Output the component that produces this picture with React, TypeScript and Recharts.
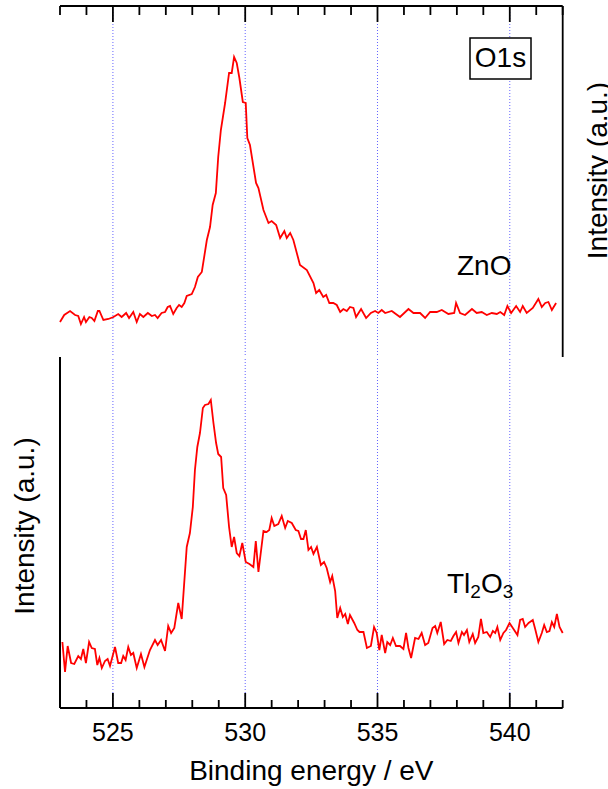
import React from 'react';
import { LineChart, Line, XAxis, YAxis, ReferenceLine } from 'recharts';

const FONT = '"Liberation Sans", Arial, Helvetica, sans-serif';

// binding energy (eV) and intensity (a.u.)
const znoEnergy = [
  523.0, 523.16, 523.38, 523.57, 523.69, 523.79, 523.91, 523.98, 524.11, 524.2,
  524.3, 524.43, 524.49, 524.64, 524.83, 525.02, 525.2, 525.33, 525.5, 525.61,
  525.77, 525.9, 526.02, 526.15, 526.32, 526.47, 526.59, 526.69, 526.84, 526.97,
  527.07, 527.16, 527.28, 527.41, 527.5, 527.6, 527.7, 527.79, 527.98, 528.1,
  528.21, 528.36, 528.55, 528.67, 528.77, 528.89, 528.98, 529.08, 529.24, 529.39,
  529.49, 529.58, 529.68, 529.78, 529.91, 530.02, 530.08, 530.18, 530.41, 530.5,
  530.69, 530.88, 531.0, 531.17, 531.32, 531.48, 531.57, 531.7, 531.82, 532.07,
  532.33, 532.58, 532.68, 532.8, 532.95, 533.06, 533.18, 533.33, 533.46, 533.59,
  533.71, 533.84, 533.96, 534.09, 534.19, 534.38, 534.57, 534.75, 534.91, 535.03,
  535.16, 535.29, 535.54, 535.85, 536.17, 536.36, 536.61, 536.8, 536.99, 537.24,
  537.43, 537.68, 537.9, 537.97, 538.12, 538.31, 538.57, 538.75, 538.94, 539.13,
  539.32, 539.51, 539.64, 539.79, 539.91, 540.05, 540.24, 540.39, 540.49, 540.64,
  540.87, 541.08, 541.21, 541.34, 541.46, 541.59, 541.75,
];
const znoIntensity = [
  35, 42, 46, 42, 41, 33, 40, 35, 40, 39,
  36, 46, 46, 37, 38, 40, 43, 40, 44, 39,
  45, 35, 43, 40, 44, 41, 42, 39, 44, 45,
  50, 51, 43, 49, 52, 50, 54, 61, 63, 70,
  80, 85, 117, 130, 152, 164, 200, 227, 254, 284,
  284, 300, 294, 279, 255, 254, 219, 212, 174, 169,
  147, 134, 136, 132, 119, 126, 119, 124, 117, 92,
  87, 74, 64, 67, 60, 62, 54, 54, 52, 45,
  48, 46, 50, 49, 40, 48, 39, 44, 46, 44,
  47, 44, 46, 40, 48, 44, 44, 39, 45, 45,
  47, 43, 44, 54, 44, 42, 48, 44, 45, 42,
  44, 43, 45, 42, 51, 44, 51, 45, 51, 44,
  49, 58, 50, 54, 55, 47, 54,
];

const tlEnergy = [
  523.09, 523.19, 523.29, 523.42, 523.54, 523.69, 523.79, 523.88, 523.98, 524.1,
  524.2, 524.32, 524.41, 524.49, 524.58, 524.7, 524.8, 524.89, 525.08, 525.2,
  525.31, 525.39, 525.48, 525.58, 525.68, 525.77, 525.9, 526.06, 526.19, 526.4,
  526.59, 526.69, 526.82, 526.97, 527.09, 527.2, 527.32, 527.47, 527.6, 527.79,
  527.91, 528.02, 528.1, 528.19, 528.29, 528.4, 528.48, 528.61, 528.7, 528.8,
  528.9, 528.98, 529.09, 529.17, 529.28, 529.39, 529.49, 529.58, 529.68, 529.78,
  529.89, 530.02, 530.16, 530.31, 530.4, 530.5, 530.69, 530.81, 530.91, 531.0,
  531.1, 531.25, 531.38, 531.51, 531.61, 531.76, 531.91, 532.01, 532.11, 532.2,
  532.29, 532.39, 532.49, 532.58, 532.71, 532.86, 532.98, 533.08, 533.21, 533.29,
  533.4, 533.48, 533.59, 533.69, 533.78, 533.88, 533.96, 534.12, 534.24, 534.32,
  534.47, 534.6, 534.75, 534.87, 534.97, 535.07, 535.16, 535.29, 535.37, 535.48,
  535.58, 535.7, 535.85, 535.98, 536.08, 536.17, 536.27, 536.42, 536.55, 536.67,
  536.8, 536.92, 537.08, 537.18, 537.26, 537.39, 537.52, 537.64, 537.77, 537.87,
  537.97, 538.06, 538.19, 538.27, 538.38, 538.47, 538.6, 538.69, 538.81, 538.91,
  539.0, 539.13, 539.26, 539.36, 539.45, 539.53, 539.64, 539.76, 539.86, 539.99,
  540.14, 540.29, 540.39, 540.49, 540.58, 540.71, 540.87, 540.96, 541.08, 541.21,
  541.3, 541.4, 541.5, 541.59, 541.68, 541.78, 541.88, 542.0,
];
const tlIntensity = [
  66, 36, 62, 45, 44, 52, 49, 59, 45, 66,
  60, 59, 43, 50, 40, 47, 49, 42, 61, 45,
  45, 52, 48, 61, 53, 55, 40, 54, 41, 58,
  68, 63, 68, 57, 82, 75, 80, 105, 89, 161,
  175, 201, 238, 261, 275, 300, 303, 304, 308, 285,
  265, 254, 251, 220, 213, 181, 161, 171, 155, 152,
  165, 146, 144, 141, 167, 136, 177, 176, 178, 190,
  182, 184, 192, 180, 187, 185, 178, 177, 169, 169,
  178, 158, 161, 154, 161, 143, 146, 140, 126, 132,
  117, 90, 100, 91, 94, 84, 93, 85, 78, 76,
  76, 60, 62, 81, 75, 58, 73, 55, 66, 63,
  70, 62, 62, 59, 75, 60, 50, 70, 69, 75,
  63, 65, 80, 82, 75, 86, 64, 68, 67, 72,
  76, 65, 76, 73, 78, 66, 74, 65, 71, 89,
  75, 76, 71, 77, 75, 81, 68, 75, 78, 85,
  79, 73, 88, 89, 81, 85, 88, 79, 66, 75,
  83, 76, 77, 86, 81, 94, 81, 75,
];

const xTicks = [
  523, 524, 525, 526, 527, 528, 529, 530, 531, 532,
  533, 534, 535, 536, 537, 538, 539, 540, 541, 542,
];
const gridLines = [525, 530, 535, 540];

const znoData = znoEnergy.map((e, i) => ({ e, i: znoIntensity[i] }));
const tlData = tlEnergy.map((e, i) => ({ e, i: tlIntensity[i] }));

const X_DOMAIN: [number, number] = [523, 542];
const Y_DOMAIN: [number, number] = [0, 351];

// inward ticks on the top axis, no labels
const TopTick = (props: any) => {
  const { x, y, payload } = props;
  const major = payload.value % 5 === 0;
  return <line x1={x} x2={x} y1={y} y2={y + (major ? 16 : 9)} stroke="#000" strokeWidth={1.8} />;
};

// inward ticks on the bottom axis, labels every 5 eV
const BottomTick = (props: any) => {
  const { x, y, payload } = props;
  const major = payload.value % 5 === 0;
  return (
    <g>
      <line x1={x} x2={x} y1={y} y2={y - (major ? 15 : 8)} stroke="#000" strokeWidth={1.8} />
      {major && (
        <text x={x} y={y + 33} textAnchor="middle" fontSize={25} fontFamily={FONT} fill="#000">
          {payload.value}
        </text>
      )}
    </g>
  );
};

const dotted = { stroke: '#6464ff', strokeWidth: 1, strokeDasharray: '1 2' };

export default function App() {
  return (
    <div style={{ position: 'absolute', left: 0, top: 0, width: 608, height: 789, background: '#fff' }}>
      <LineChart width={608} height={357} data={znoData} margin={{ top: 5, right: 0, bottom: 0, left: 60 }}>
        <XAxis
          dataKey="e"
          type="number"
          orientation="top"
          domain={X_DOMAIN}
          ticks={xTicks}
          interval={0}
          height={1}
          tickSize={0}
          tickMargin={0}
          tickLine={false}
          tick={<TopTick />}
          axisLine={{ stroke: '#000', strokeWidth: 2 }}
        />
        <YAxis
          type="number"
          orientation="right"
          domain={Y_DOMAIN}
          width={45.3}
          tick={false}
          tickLine={false}
          axisLine={{ stroke: '#000', strokeWidth: 1.8 }}
          label={{
            value: 'Intensity (a.u.)',
            angle: -90,
            position: 'center',
            dx: 12,
            dy: -11,
            style: { fontSize: 28, fontFamily: FONT, fill: '#000' },
          }}
        />
        {gridLines.map((v) => (
          <ReferenceLine key={v} x={v} {...dotted} />
        ))}
        <Line dataKey="i" stroke="#ff0000" strokeWidth={1.8} dot={false} isAnimationActive={false} />
      </LineChart>
      <LineChart width={608} height={432} data={tlData} margin={{ top: 0, right: 45.3, bottom: 0, left: 0 }}>
        <XAxis
          dataKey="e"
          type="number"
          domain={X_DOMAIN}
          ticks={xTicks}
          interval={0}
          height={81}
          tickSize={0}
          tickMargin={0}
          tickLine={false}
          tick={<BottomTick />}
          axisLine={{ stroke: '#000', strokeWidth: 2 }}
          label={{
            value: 'Binding energy / eV',
            position: 'insideBottom',
            offset: 9,
            style: { fontSize: 28, fontFamily: FONT, fill: '#000' },
          }}
        />
        <YAxis
          type="number"
          domain={Y_DOMAIN}
          width={60}
          tick={false}
          tickLine={false}
          axisLine={{ stroke: '#000', strokeWidth: 2 }}
          label={{
            value: 'Intensity (a.u.)',
            angle: -90,
            position: 'center',
            dx: -5.5,
            dy: -6.5,
            style: { fontSize: 28, fontFamily: FONT, fill: '#000' },
          }}
        />
        {gridLines.map((v) => (
          <ReferenceLine key={v} x={v} {...dotted} />
        ))}
        <Line dataKey="i" stroke="#ff0000" strokeWidth={1.8} dot={false} isAnimationActive={false} />
      </LineChart>
      <svg
        width={608}
        height={789}
        style={{ position: 'absolute', left: 0, top: 0, pointerEvents: 'none' }}
        fontFamily={FONT}
      >
        <rect x={470} y={38} width={61} height={41} fill="#fff" stroke="#000" strokeWidth={1.5} />
        <text x={500.5} y={67} textAnchor="middle" fontSize={28} fill="#000">O1s</text>
        <text x={457} y={275} fontSize={28} fill="#000">ZnO</text>
        <text x={447} y={593} fontSize={28} fill="#000">
          Tl<tspan dy={5} fontSize={19}>2</tspan>
          <tspan dy={-5} fontSize={28}>O</tspan>
          <tspan dy={5} fontSize={19}>3</tspan>
        </text>
      </svg>
    </div>
  );
}
